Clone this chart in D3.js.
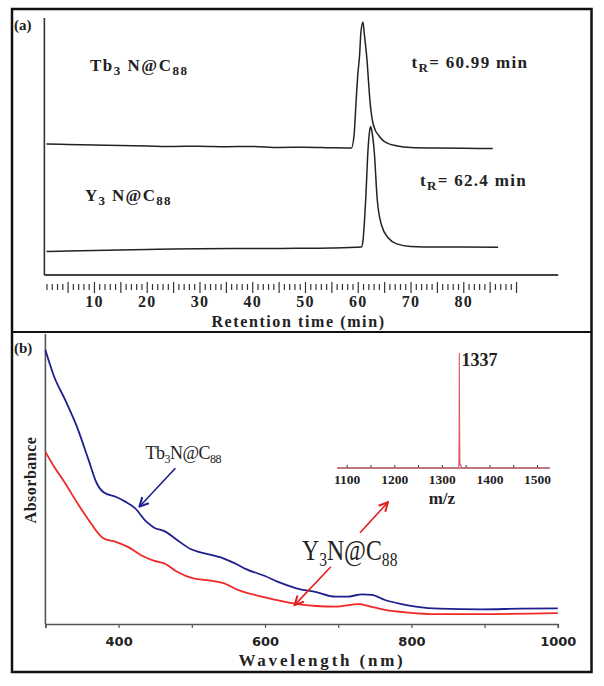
<!DOCTYPE html>
<html><head><meta charset="utf-8">
<script src="https://cdn.jsdelivr.net/npm/d3@7"></script>
<style>body{margin:0;background:#fff}</style>
</head><body>
<script>
// ---------- DATA ----------
// Panel (a): HPLC chromatograms (retention time in min, signal in arbitrary units)
const tbTime = [1,5,10,15,20,25,30,35,40,45,50,55,58.8,59.3,59.7,60.0,60.35,60.6,60.99,61.2,61.75,62.3,62.75,63.3,63.9,64.7,65.5,67.5,70,75,80,85.6];
const tbSignal = [51.4,51.2,51.0,50.8,50.6,50.4,50.5,50.3,50.4,50.0,50.1,49.9,49.8,54.9,68.6,78.4,86.3,95.3,99.2,95.3,84.3,68.6,60.8,56.9,54.9,52.9,51.8,50.6,50.0,49.8,49.7,49.6];
const yTime = [1,5,10,15,20,25,30,40,45,50,55,60.7,61.0,61.5,61.94,62.2,62.43,62.7,63.1,63.7,64.5,65.8,67.4,70,75,80,86.6];
const ySignal = [9.2,9.4,9.6,9.8,10.0,10.2,10.3,10.4,10.4,10.5,10.6,11.0,13.7,29.4,49.0,55.7,58.2,56.1,49.0,29.4,19.6,14.5,12.2,11.2,11.0,11.0,10.9];
const timeTickLabels = [10,20,30,40,50,60,70,80];
const peakLabels = ["= 60.99 min","= 62.4 min"];

// Panel (b): UV-vis-NIR absorption spectra
const tbWave = [300,312,327,343,359,370,380,396,409,422,438,448,464,480,499,512,543,559,575,600,617,643,670,696,712,733,746,764,785,806,838,896,948,1000];
const tbAbs = [0.913,0.824,0.747,0.658,0.547,0.470,0.438,0.424,0.408,0.387,0.341,0.322,0.308,0.280,0.249,0.239,0.219,0.202,0.182,0.160,0.141,0.119,0.106,0.091,0.091,0.099,0.097,0.080,0.067,0.058,0.051,0.049,0.051,0.052];
const yWave = [300,312,327,344,359,379,396,412,435,448,464,480,502,528,543,564,600,639,670,696,728,744,764,796,832,896,1000];
const yAbs = [0.574,0.524,0.469,0.402,0.347,0.286,0.274,0.258,0.224,0.211,0.200,0.174,0.152,0.144,0.136,0.113,0.089,0.069,0.060,0.058,0.066,0.058,0.047,0.038,0.033,0.033,0.036];
const waveTicks = [300,400,500,600,700,800,900,1000];
const waveTickLabels = [400,600,800,1000];

// Inset: mass spectrum
const msMz = [1080,1300,1335.5,1336.2,1336.8,1337.3,1338,1339,1341,1343,1527];
const msInt = [0,0,0,0.25,1.0,0.35,0.02,0.03,0.01,0,0];
const mzTicks = [1100,1150,1200,1250,1300,1350,1400,1450,1500];
const mzTickLabels = [1100,1200,1300,1400,1500];

// ---------- DRAW ----------
const W = 604, H = 686;
const svg = d3.select("body").append("svg").attr("width", W).attr("height", H)
  .style("font-family","'Liberation Serif', serif");
svg.append("rect").attr("width",W).attr("height",H).attr("fill","#fff");

// frame
svg.append("rect").attr("x",12).attr("y",9).attr("width",579.5).attr("height",663)
  .attr("fill","none").attr("stroke","#111").attr("stroke-width",2.5);
svg.append("line").attr("x1",12).attr("x2",591.5).attr("y1",332).attr("y2",332)
  .attr("stroke","#111").attr("stroke-width",2.2);

// ===== Panel (a) =====
const xA = d3.scaleLinear().domain([0,100]).range([41.2,568.8]);
const yA = d3.scaleLinear().domain([0,100]).range([275,20]);
const gA = svg.append("g");
gA.append("line").attr("x1",xA(0.6)).attr("x2",xA(0.6)).attr("y1",18).attr("y2",yA(0))
  .attr("stroke","#333").attr("stroke-width",1.6);
gA.append("line").attr("x1",xA(0.6)).attr("x2",xA(98)).attr("y1",yA(0)).attr("y2",yA(0))
  .attr("stroke","#444").attr("stroke-width",2.2);

// detached tick row
const tickAx = d3.axisBottom(xA).tickValues(d3.range(1,91)).tickSize(0).tickFormat("");
const tr = gA.append("g").attr("transform","translate(0,283)").call(tickAx);
tr.select(".domain").remove();
tr.selectAll(".tick line")
  .attr("y1", d => d % 5 === 0 ? -1 : 1)
  .attr("y2", d => d % 5 === 0 ? 10 : 7)
  .attr("stroke","#333").attr("stroke-width",1.2);
// labels
const labAx = d3.axisBottom(xA).tickValues(timeTickLabels).tickSize(0).tickPadding(0).tickFormat(d3.format("d"));
const la = gA.append("g").attr("transform","translate(0,296)").call(labAx);
la.select(".domain").remove();
la.selectAll(".tick text").attr("font-family","'Liberation Serif', serif").attr("font-weight","bold")
  .attr("font-size",16).attr("fill","#222").attr("letter-spacing",1.2).attr("dy","0.71em");

const lineA = d3.line().x(d=>xA(d[0])).y(d=>yA(d[1])).curve(d3.curveMonotoneX);
gA.append("path").datum(d3.zip(tbTime,tbSignal)).attr("d",lineA)
  .attr("fill","none").attr("stroke","#222").attr("stroke-width",1.5);
gA.append("path").datum(d3.zip(yTime,ySignal)).attr("d",lineA)
  .attr("fill","none").attr("stroke","#222").attr("stroke-width",1.5);

gA.append("text").attr("x",298.5).attr("y",327).attr("text-anchor","middle")
  .attr("font-weight","bold").attr("font-size",16).attr("letter-spacing",1.6).attr("fill","#222")
  .text("Retention time (min)");
gA.append("text").attr("x",14).attr("y",30).attr("font-weight","bold").attr("font-size",15).attr("fill","#222").text("(a)");

// parts: [text, isSub]
function chem(g, x, y, parts, size, subSize, shift, weight, fill){
  const t = g.append("text").attr("x",x).attr("y",y).attr("font-size",size)
    .attr("font-weight",weight).attr("fill",fill);
  let down = false;
  parts.forEach(p=>{
    const ts = t.append("tspan").text(p[0]);
    if(p[1]){
      ts.attr("font-size",subSize);
      if(!down){ ts.attr("dy", shift); down = true; }
    } else if(down){ ts.attr("dy", -shift); down = false; }
  });
  return t;
}
// compound labels panel a
chem(gA, 90, 71, [["Tb",0],["3",1],[" N@C",0],["88",1]], 17, 13, 4, "bold", "#222").attr("letter-spacing",1.5);
chem(gA, 85, 201, [["Y",0],["3",1],[" N@C",0],["88",1]], 17, 13, 4, "bold", "#222").attr("letter-spacing",1.3);
// tR labels
function tr_(g,x,y,val){
  const t = g.append("text").attr("x",x).attr("y",y).attr("font-size",17).attr("font-weight","bold")
    .attr("fill","#222").attr("letter-spacing",1.3);
  t.append("tspan").text("t");
  t.append("tspan").text("R").attr("font-size",13).attr("dy",4);
  t.append("tspan").text(val).attr("dy",-4);
}
tr_(gA, 411.5, 68, peakLabels[0]);
tr_(gA, 420, 186, peakLabels[1]);

// ===== Panel (b) =====
const xB = d3.scaleLinear().domain([300,1000]).range([45.4,557.8]);
const yB = d3.scaleLinear().domain([0,1]).range([624,324]);
const gB = svg.append("g");
gB.append("line").attr("x1",xB(300)).attr("x2",xB(300)).attr("y1",334).attr("y2",yB(0))
  .attr("stroke","#555").attr("stroke-width",1.6);
const axB = d3.axisBottom(xB).tickValues(waveTicks).tickSize(4).tickPadding(9)
  .tickFormat(d => waveTickLabels.includes(d) ? d : "");
const ab = gB.append("g").attr("transform",`translate(0,${yB(0)})`).call(axB);
ab.select(".domain").attr("stroke","#555").attr("stroke-width",1.6);
ab.selectAll(".tick line").attr("stroke","#555").attr("stroke-width",1.2);
ab.selectAll(".tick text").attr("font-family","'DejaVu Sans', sans-serif").attr("font-weight","bold")
  .attr("font-size",13).attr("fill","#222");

const lineB = d3.line().x(d=>xB(d[0])).y(d=>yB(d[1])).curve(d3.curveMonotoneX);
gB.append("path").datum(d3.zip(tbWave,tbAbs)).attr("d",lineB)
  .attr("fill","none").attr("stroke","#1f1f8f").attr("stroke-width",1.8);
gB.append("path").datum(d3.zip(yWave,yAbs)).attr("d",lineB)
  .attr("fill","none").attr("stroke","#f02828").attr("stroke-width",1.8);

gB.append("text").attr("x",322).attr("y",666).attr("text-anchor","middle")
  .attr("font-weight","bold").attr("font-size",17).attr("letter-spacing",2.8).attr("fill","#222")
  .text("Wavelength (nm)");
gB.append("text").attr("transform","translate(36,480) rotate(-90)").attr("text-anchor","middle")
  .attr("font-weight","bold").attr("font-size",16).attr("letter-spacing",0.5).attr("fill","#222")
  .text("Absorbance");
gB.append("text").attr("x",14).attr("y",353).attr("font-weight","bold").attr("font-size",15).attr("fill","#222").text("(b)");

// inset
const xI = d3.scaleLinear().domain([1100,1500]).range([346.7,537]);
const yI = d3.scaleLinear().domain([0,1]).range([468,353]);
const gI = svg.append("g");
gI.append("line").attr("x1",xI(1080)).attr("x2",xI(1527)).attr("y1",yI(0)).attr("y2",yI(0))
  .attr("stroke","#333").attr("stroke-width",1.2);
const axI = d3.axisTop(xI).tickValues(mzTicks).tickSize(3).tickFormat("");
const ai = gI.append("g").attr("transform",`translate(0,${yI(0)})`).call(axI);
ai.select(".domain").remove();
ai.selectAll(".tick line").attr("stroke","#333");
const axIL = d3.axisBottom(xI).tickValues(mzTickLabels).tickSize(0).tickPadding(0).tickFormat(d3.format("d"));
const ail = gI.append("g").attr("transform",`translate(0,${yI(0)+6})`).call(axIL);
ail.select(".domain").remove();
ail.selectAll(".tick text").attr("font-family","'Liberation Serif', serif").attr("font-weight","bold")
  .attr("font-size",13.5).attr("fill","#222").attr("dy","0.71em");
gI.append("text").attr("x",xI(1300)).attr("y",504).attr("text-anchor","middle")
  .attr("font-weight","bold").attr("font-size",17).attr("fill","#222").text("m/z");
gI.append("path").datum(d3.zip(msMz,msInt))
  .attr("d", d3.line().x(d=>xI(d[0])).y(d=>yI(d[1])))
  .attr("fill","none").attr("stroke","#e05a6a").attr("stroke-width",1.1);
gI.append("text").attr("x",xI(1337)+2).attr("y",366).attr("font-size",18).attr("fill","#222")
  .attr("font-weight","bold").text("1337");

// annotations
const defs = svg.append("defs");
function marker(id, col){
  defs.append("marker").attr("id",id).attr("viewBox","0 0 10 10").attr("refX",9).attr("refY",5)
    .attr("markerWidth",7).attr("markerHeight",7).attr("orient","auto")
    .append("path").attr("d","M1,1 L9,5 L1,9").attr("fill","none").attr("stroke",col).attr("stroke-width",1.8);
}
marker("ab","#1f1f8f"); marker("ar","#e02020");
function arrow(w0,a0,w1,a1,col,id){
  gB.append("line").attr("x1",xB(w0)).attr("y1",yB(a0)).attr("x2",xB(w1)).attr("y2",yB(a1))
    .attr("stroke",col).attr("stroke-width",1.6).attr("marker-end",`url(#${id})`);
}
arrow(477.5,0.519,428.4,0.391,"#1f1f8f","ab");
arrow(690,0.191,640.4,0.063,"#e02020","ar");
arrow(729.8,0.304,768,0.406,"#e02020","ar");

chem(gB, 145.5, 459, [["Tb",0],["3",1],["N@C",0],["88",1]], 18, 12, 4, "normal", "#222")
  .attr("letter-spacing",-0.5);
const yl = gB.append("g").attr("transform","translate(302,560) scale(0.82,1)");
chem(yl, 0, 0, [["Y",0],["3",1],["N@C",0],["88",1]], 29, 19, 6, "normal", "#222");
</script>
</body></html>
